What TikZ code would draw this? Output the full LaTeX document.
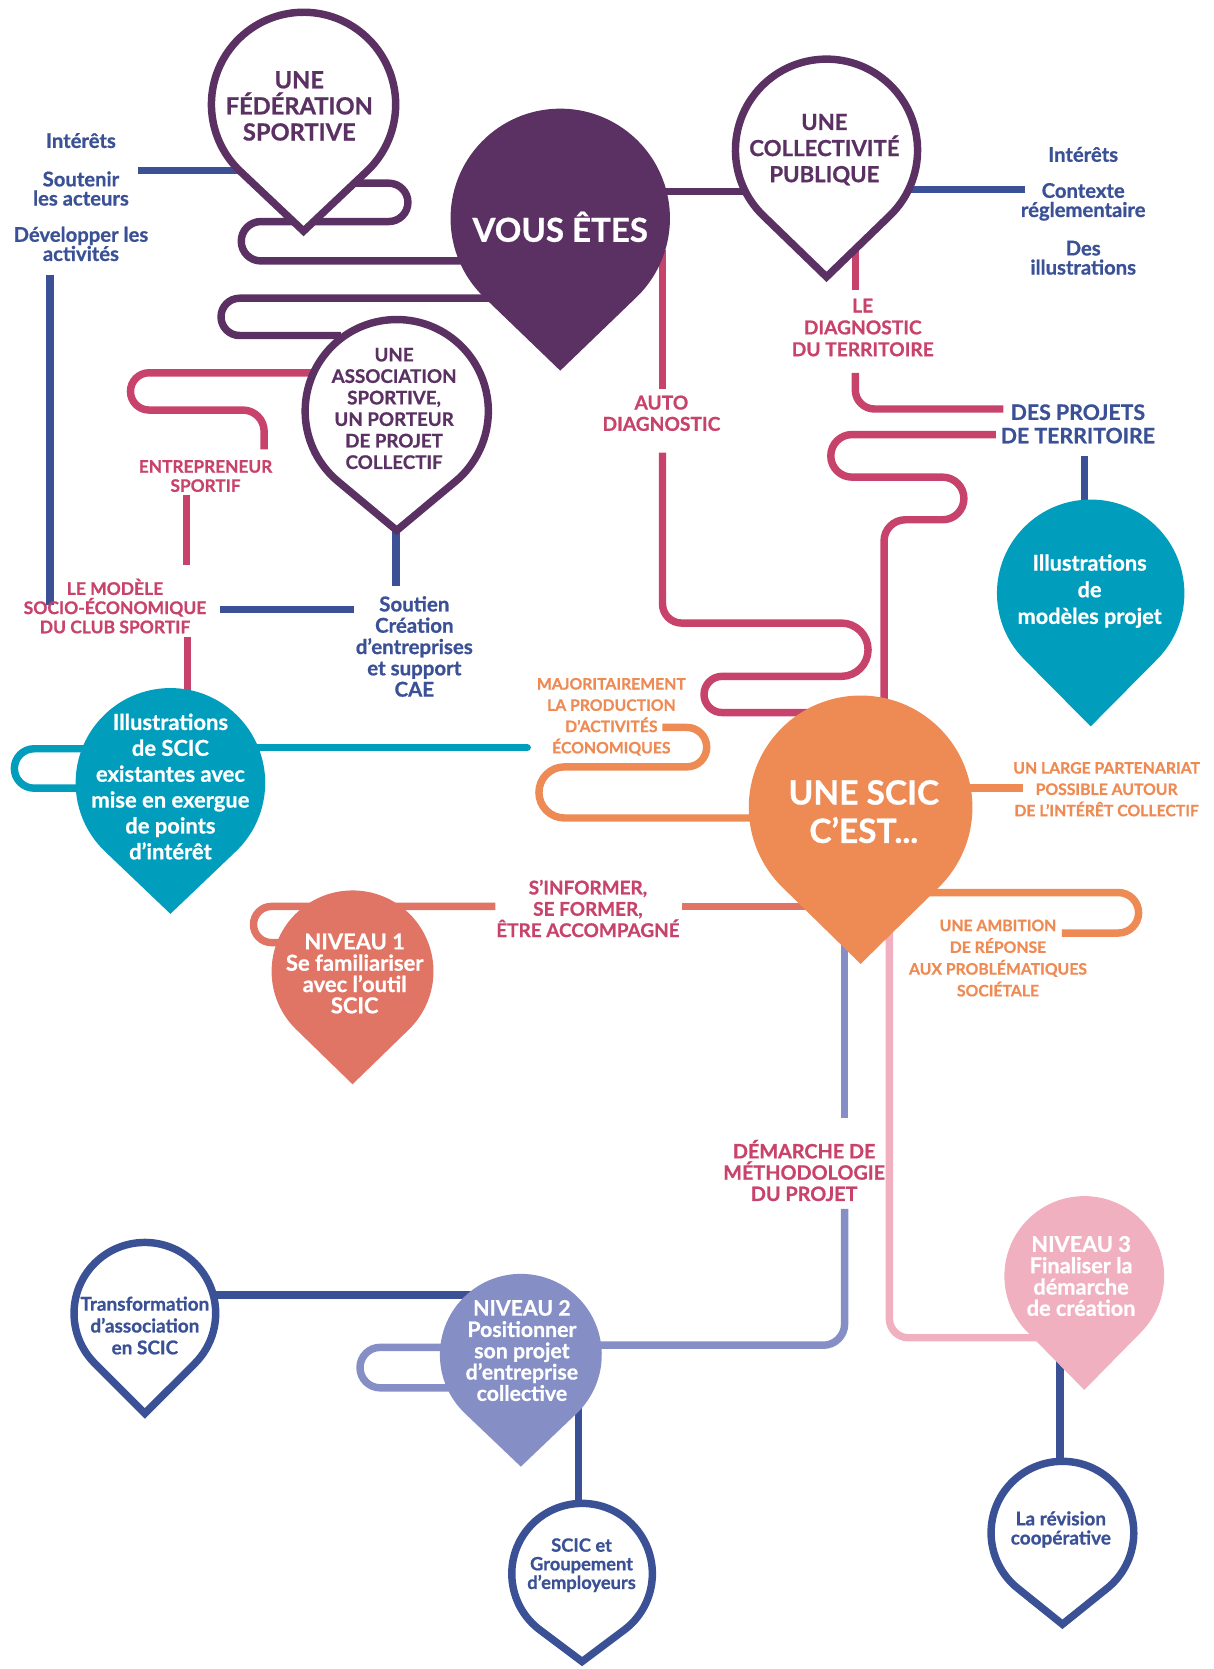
\documentclass[tikz,border=0pt]{standalone}
\usepackage{fontspec}
\setmainfont{Lato}[BoldFeatures={FakeBold=0.8}]
\definecolor{cpurple}{HTML}{5B3163}
\definecolor{cnavy}{HTML}{3B5196}
\definecolor{craspb}{HTML}{C8436B}
\definecolor{cteal}{HTML}{019DBC}
\definecolor{corange}{HTML}{EE8B55}
\definecolor{csalmon}{HTML}{E07566}
\definecolor{clav}{HTML}{858FC6}
\definecolor{clpink}{HTML}{F0B0C0}
\newcommand{\fz}[2]{\fontsize{#1}{#2}\selectfont\bfseries}
\newcommand{\pinat}[5]{%
  \pgfmathsetmacro{\pinang}{acos(#4/#5)}%
  \path[#1] ({#2+#4*cos(90+\pinang)},{#3+#4*sin(90+\pinang)})
     arc[start angle={90+\pinang}, end angle={450-\pinang}, radius=#4]
     -- (#2,{#3+#5}) -- cycle;
}
\tikzset{
  conn/.style={line width=3.5pt},
  lpurple/.style={conn, draw=cpurple},
  lnavy/.style={conn, draw=cnavy},
  lrasp/.style={conn, draw=craspb},
  lteal/.style={conn, draw=cteal},
  lorange/.style={conn, draw=corange},
  lsalmon/.style={conn, draw=csalmon},
  llav/.style={conn, draw=clav},
  llpink/.style={conn, draw=clpink},
  pinout/.style={draw=#1, fill=white, line width=3.5pt, line join=miter, miter limit=10},
  pinfill/.style={fill=#1},
  txt/.style={align=center, inner sep=0pt},
}
\begin{document}
\begin{tikzpicture}[x=0.5pt,y=-0.5pt]
\useasboundingbox (0,0) rectangle (1139,1567);
% ---------- connectors ----------
% purple
\draw[lpurple] (330,172) -- (365,172) arc[start angle=-90,end angle=90,radius=18] -- (245,208) arc[start angle=-90,end angle=-270,radius=18.5] -- (450,245);
\draw[lpurple] (465,280) -- (225,280) arc[start angle=-90,end angle=-270,radius=17.5] -- (320,315);
\draw[lpurple] (610,180) -- (710,180);
% navy
\draw[lnavy] (130,160) -- (228,160);
\draw[lnavy] (47,258) -- (47,568);
\draw[lnavy] (207,572) -- (332,572);
\draw[lnavy] (372,495) -- (372,550);
\draw[lnavy] (850,178) -- (962,178);
\draw[lnavy] (1018,428) -- (1018,478);
\draw[lnavy] (195,1216) -- (450,1216);
\draw[lnavy] (543,1315) -- (543,1412);
\draw[lnavy] (995,1275) -- (995,1372);
% raspberry
\draw[lrasp] (300,350) -- (140,350) arc[start angle=-90,end angle=-270,radius=17.5] -- (228,385) arc[start angle=-90,end angle=0,radius=20] -- (248,422);
\draw[lrasp] (175,465) -- (175,530);
\draw[lrasp] (176,598) -- (176,652);
\draw[lrasp] (622,235) -- (622,365);
\draw[lrasp] (622,425) -- (622,567) arc[start angle=180,end angle=90,radius=18] -- (790,585) arc[start angle=-90,end angle=90,radius=25] -- (678,635) arc[start angle=-90,end angle=-270,radius=17] -- (760,669);
\draw[lrasp] (803,232) -- (803,272);
\draw[lrasp] (803,350) -- (803,366) arc[start angle=180,end angle=90,radius=18] -- (942,384);
\draw[lrasp] (935,408) -- (800,408) arc[start angle=-90,end angle=-270,radius=20] -- (885,448) arc[start angle=-90,end angle=90,radius=20] -- (850,488) arc[start angle=-90,end angle=-180,radius=20] -- (830,665);
% teal
\draw[lteal, line cap=round] (240,702) -- (495,702);
\draw[lteal] (85,703) -- (32,703) arc[start angle=-90,end angle=-270,radius=18.5] -- (85,740);
% orange
\draw[lorange] (622,683) -- (645,683) arc[start angle=-90,end angle=90,radius=18.5] -- (530,720) arc[start angle=-90,end angle=-270,radius=24] -- (715,768);
\draw[lorange] (900,740) -- (960,740);
\draw[lorange] (865,838) -- (1050,838) arc[start angle=-90,end angle=90,radius=19] -- (997,876);
% salmon
\draw[lsalmon] (765,851) -- (640,851);
\draw[lsalmon] (465,851) -- (255,851) arc[start angle=-90,end angle=-270,radius=17] -- (275,885);
% lavender
\draw[llav] (793,885) -- (793,1050);
\draw[llav] (793,1135) -- (793,1243) arc[start angle=0,end angle=90,radius=20] -- (555,1263);
\draw[llav] (430,1265) -- (357,1265) arc[start angle=-90,end angle=-270,radius=19] -- (430,1303);
% light pink
\draw[llpink] (835,875) -- (835,1238) arc[start angle=180,end angle=90,radius=18] -- (975,1256);
% ---------- pins ----------
\pinat{pinout=cpurple}{285}{98}{86.5}{119}
\pinat{pinout=cpurple}{776}{141}{85.5}{119}
\pinat{pinout=cpurple}{372.5}{386}{86}{112}
\pinat{pinfill=cpurple}{526}{205}{103}{143}
\pinat{pinfill=cteal}{1024}{557}{88}{125}
\pinat{pinfill=cteal}{160}{735}{89}{123}
\pinat{pinfill=corange}{808}{758}{105}{147}
\pinat{pinfill=csalmon}{331}{912}{76}{106}
\pinat{pinfill=clav}{489}{1272}{76}{105}
\pinat{pinfill=clpink}{1018}{1198}{75}{107}
\pinat{pinout=cnavy}{136}{1233}{66.5}{94}
\pinat{pinout=cnavy}{546.5}{1477.5}{66}{82.5}
\pinat{pinout=cnavy}{997.5}{1439}{67}{86}
% ---------- pin texts ----------
\node[txt, text=cpurple, font=\fz{11.1}{12.25}] (fed) at (281,99.5) {UNE\\FÉDÉRATION\\SPORTIVE};
\node[txt, text=cpurple, font=\fz{10.4}{12.25}] (coll) at (774,140.5) {UNE\\COLLECTIVITÉ\\PUBLIQUE};
\node[txt, text=cpurple, font=\fz{8.8}{10.1}] (assoc) at (370,383.5) {UNE\\ASSOCIATION\\SPORTIVE,\\UN PORTEUR\\DE PROJET\\COLLECTIF};
\node[txt, text=white, font=\fz{15.5}{18}] (vous) at (526,213) {VOUS ÊTES};
\node[txt, text=white, font=\fz{15.7}{18}] (scic) at (811,762) {UNE SCIC\\C’EST...};
\node[txt, text=white, font=\fz{10.2}{12.5}] (illusr) at (1023,555) {Illustrations\\de\\modèles projet};
\node[txt, text=white, font=\fz{10.3}{12.15}] (illusl) at (160,738.5) {Illustrations\\de SCIC\\existantes avec\\mise en exergue\\de points\\d’intérêt};
\node[txt, text=white, font=\fz{10.3}{10}] (niv1) at (333,914) {NIVEAU 1\\Se familiariser\\avec l’outil\\SCIC};
\node[txt, text=white, font=\fz{10}{10}] (niv2) at (490,1268) {NIVEAU 2\\Positionner\\son projet\\d’entreprise\\collective};
\node[txt, text=white, font=\fz{10.2}{10}] (niv3) at (1015,1198) {NIVEAU 3\\Finaliser la\\démarche\\de création};
\node[txt, text=cnavy, font=\fz{8.9}{10.25}] (transf) at (136,1244.5) {Transformation\\d’association\\en SCIC};
\node[txt, text=cnavy, font=\fz{8.6}{8.75}] (grpt) at (546,1469.5) {SCIC et\\Groupement\\d’employeurs};
\node[txt, text=cnavy, font=\fz{8.9}{9}] (revis) at (996,1436) {La révision\\coopérative};
% ---------- labels ----------
\node[txt, text=cnavy, font=\fz{9.5}{9}] (intl) at (76,132) {Intérêts};
\node[txt, text=cnavy, font=\fz{9.5}{9}] (sout) at (76,177) {Soutenir\\les acteurs};
\node[txt, text=cnavy, font=\fz{9.5}{9}] (devl) at (76,229) {Développer les\\activités};
\node[txt, text=cnavy, font=\fz{9.5}{9}] (intr) at (1017,145) {Intérêts};
\node[txt, text=cnavy, font=\fz{9.5}{9}] (ctx) at (1017,189.5) {Contexte\\réglementaire};
\node[txt, text=cnavy, font=\fz{9.5}{9}] (desil) at (1017,242) {Des\\illustrations};
\node[txt, text=craspb, font=\fz{9}{10.25}] (diag) at (810,307.5) {LE\\DIAGNOSTIC\\DU TERRITOIRE};
\node[txt, text=cnavy, font=\fz{10}{11}] (projets) at (1012,398) {DES PROJETS\\DE TERRITOIRE};
\node[txt, text=craspb, font=\fz{9}{10}] (auto) at (621,388) {AUTO\\DIAGNOSTIC};
\node[txt, text=craspb, font=\fz{8.1}{9}] (entr) at (193,447) {ENTREPRENEUR\\SPORTIF};
\node[txt, text=craspb, font=\fz{8.2}{9}] (modele) at (108,569) {LE MODÈLE\\SOCIO-ÉCONOMIQUE\\DU CLUB SPORTIF};
\node[txt, text=cnavy, font=\fz{9.6}{10}] (soutien) at (389,607) {Soutien\\Création\\d’entreprises\\et support\\CAE};
\node[txt, text=corange, font=\fz{7.4}{10}] (major) at (574,673) {MAJORITAIREMENT\\LA PRODUCTION\\D’ACTIVITÉS\\ÉCONOMIQUES};
\node[txt, text=corange, font=\fz{7.4}{10}] (large) at (1039,741) {UN LARGE PARTENARIAT\\POSSIBLE AUTOUR\\DE L’INTÉRÊT COLLECTIF};
\node[txt, text=craspb, font=\fz{8.9}{10}] (info) at (552,853) {S’INFORMER,\\SE FORMER,\\ÊTRE ACCOMPAGNÉ};
\node[txt, text=corange, font=\fz{7.4}{10.2}] (ambit) at (937,899.5) {UNE AMBITION\\DE RÉPONSE\\AUX PROBLÉMATIQUES\\SOCIÉTALE};
\node[txt, text=craspb, font=\fz{9.3}{10}] (demar) at (755,1099) {DÉMARCHE DE\\MÉTHODOLOGIE\\DU PROJET};
\end{tikzpicture}
\end{document}
